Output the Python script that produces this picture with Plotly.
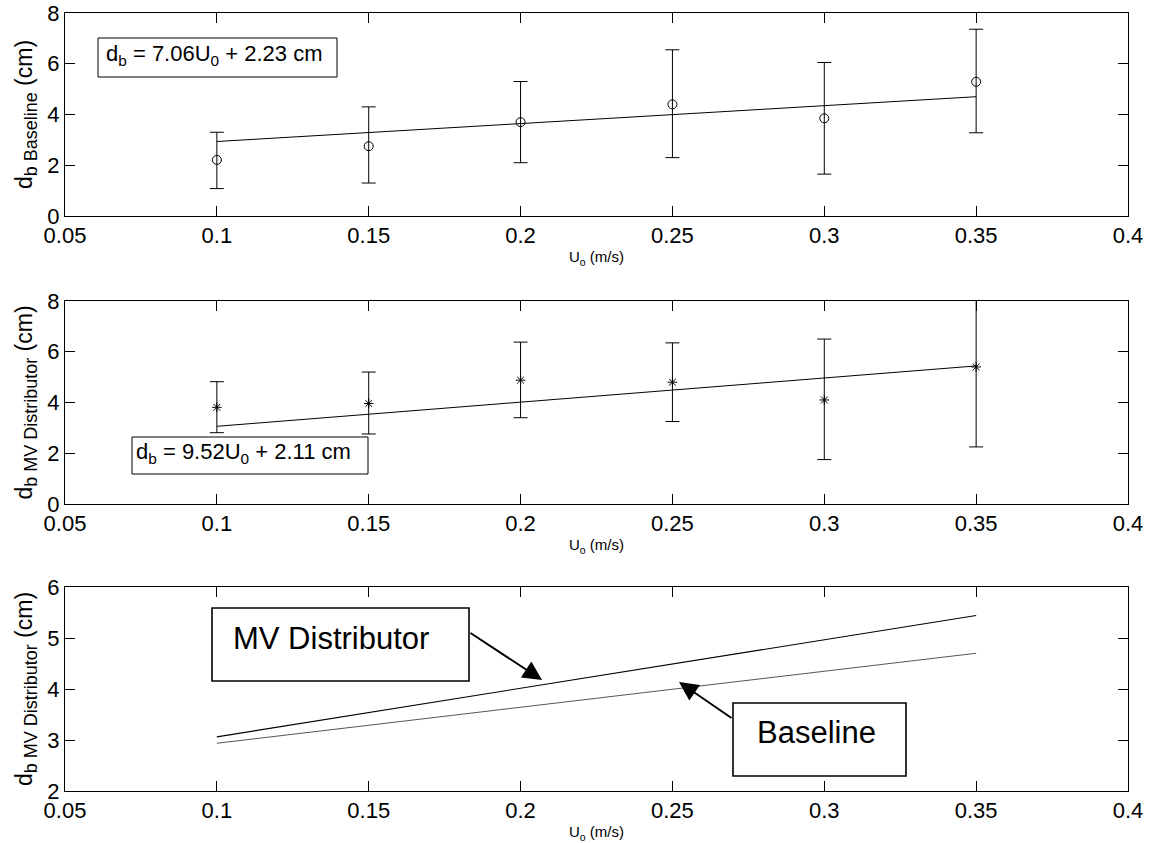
import plotly.graph_objects as go

# Superficial gas velocity (m/s) at which bubble sizes were measured
u0 = [0.10, 0.15, 0.20, 0.25, 0.30, 0.35]
x_tick_vals = [0.05, 0.10, 0.15, 0.20, 0.25, 0.30, 0.35, 0.40]
x_tick_text = ["0.05", "0.1", "0.15", "0.2", "0.25", "0.3", "0.35", "0.4"]

# Baseline distributor: mean bubble diameter (cm) and error-bar limits
base_mean = [2.21, 2.75, 3.70, 4.40, 3.85, 5.29]
base_upper = [3.30, 4.30, 5.30, 6.55, 6.05, 7.36]
base_lower = [1.08, 1.30, 2.10, 2.30, 1.65, 3.28]

# MV distributor: mean bubble diameter (cm) and error-bar limits
mv_mean = [3.81, 3.96, 4.88, 4.80, 4.10, 5.40]
mv_upper = [4.82, 5.20, 6.38, 6.35, 6.50, 8.55]
mv_lower = [2.81, 2.76, 3.40, 3.25, 1.75, 2.25]

# Linear fits d_b = slope * U0 + intercept
base_slope, base_intercept = 7.06, 2.23
mv_slope, mv_intercept = 9.52, 2.11
fit_u = [0.10, 0.35]

FONT = "Arial, Liberation Sans, sans-serif"
W, H = 1152, 843
ML, MR, MT, MB = 65, 24, 13, 52
PW, PH = W - ML - MR, H - MT - MB


def fx(px):
    return (px - ML) / PW


def fy(py):
    return 1 - (py - MT) / PH


def fit_line(slope, intercept):
    return [slope * u + intercept for u in fit_u]


def err(mean, upper, lower):
    return dict(type="data", symmetric=False,
                array=[u - m for u, m in zip(upper, mean)],
                arrayminus=[m - l for m, l in zip(mean, lower)],
                color="black", thickness=1, width=7)


fig = go.Figure()

# Panel 1: baseline distributor
fig.add_trace(go.Scatter(x=u0, y=base_mean, mode="markers",
                         marker=dict(symbol="circle-open", size=9, color="black",
                                     line=dict(width=1, color="black")),
                         error_y=err(base_mean, base_upper, base_lower),
                         xaxis="x", yaxis="y", showlegend=False))
fig.add_trace(go.Scatter(x=fit_u, y=fit_line(base_slope, base_intercept), mode="lines",
                         line=dict(color="black", width=1),
                         xaxis="x", yaxis="y", showlegend=False))

# Panel 2: MV distributor
fig.add_trace(go.Scatter(x=u0, y=mv_mean, mode="markers",
                         marker=dict(symbol="asterisk-open", size=8, color="black",
                                     line=dict(width=1, color="black")),
                         error_y=err(mv_mean, mv_upper, mv_lower),
                         xaxis="x2", yaxis="y2", showlegend=False))
fig.add_trace(go.Scatter(x=fit_u, y=fit_line(mv_slope, mv_intercept), mode="lines",
                         line=dict(color="black", width=1),
                         xaxis="x2", yaxis="y2", showlegend=False))

# Panel 3: fitted lines compared
fig.add_trace(go.Scatter(x=fit_u, y=fit_line(mv_slope, mv_intercept), mode="lines",
                         line=dict(color="black", width=1.1),
                         xaxis="x3", yaxis="y3", showlegend=False))
fig.add_trace(go.Scatter(x=fit_u, y=fit_line(base_slope, base_intercept), mode="lines",
                         line=dict(color="#555555", width=1),
                         xaxis="x3", yaxis="y3", showlegend=False))

axis_common = dict(showline=True, linecolor="black", linewidth=1, mirror="ticks",
                   ticks="inside", ticklen=10, tickwidth=1, tickcolor="black",
                   showgrid=False, zeroline=False, automargin=False,
                   tickfont=dict(family=FONT, size=22, color="black"))

x_title = dict(text="U<sub>o</sub> (m/s)", font=dict(family=FONT, size=15, color="black"),
               standoff=4)

domains = [(0.73907, 1.0), (0.36889, 0.62982), (0.0, 0.26221)]
y_titles = ["d<sub><span style='font-size:18px'>b Baseline</span></sub> (cm)",
            "d<sub><span style='font-size:18px'>b MV Distributor</span></sub> (cm)",
            "d<sub><span style='font-size:18px'>b MV Distributor</span></sub> (cm)"]
y_ranges = [[0, 8], [0, 8], [2, 6]]
y_ticks = [[0, 2, 4, 6, 8], [0, 2, 4, 6, 8], [2, 3, 4, 5, 6]]

layout = dict(width=W, height=H, autosize=False,
              margin=dict(l=ML, r=MR, t=MT, b=MB),
              paper_bgcolor="white", plot_bgcolor="white",
              font=dict(family=FONT, color="black"))

for i in range(3):
    sx = "" if i == 0 else str(i + 1)
    layout["xaxis" + sx] = dict(axis_common, domain=[0, 1], range=[0.05, 0.4],
                                tickvals=x_tick_vals, ticktext=x_tick_text,
                                anchor="y" + sx, title=x_title)
    layout["yaxis" + sx] = dict(axis_common, domain=list(domains[i]), range=y_ranges[i],
                                tickvals=y_ticks[i], anchor="x" + sx,
                                title=dict(text=y_titles[i],
                                           font=dict(family=FONT, size=23, color="black"),
                                           standoff=8))

fig.update_layout(**layout)

# Boxes around the fit equations and the panel-3 labels
boxes = [
    (98, 38, 337, 77, 1),
    (132, 437, 368, 474, 1),
    (212, 608, 469, 681, 1.6),
    (733, 703, 906, 776, 1.6),
]
for x0, y0, x1, y1, lw in boxes:
    fig.add_shape(type="rect", xref="paper", yref="paper",
                  x0=fx(x0), x1=fx(x1), y0=fy(y1), y1=fy(y0),
                  line=dict(color="black", width=lw), fillcolor="white", layer="above")

labels = [
    ("d<sub>b</sub> = 7.06U<sub>0</sub> + 2.23 cm", 104, 55, 22),
    ("d<sub>b</sub> = 9.52U<sub>0</sub> + 2.11 cm", 134, 453, 22),
    ("MV Distributor", 231, 638, 31),
    ("Baseline", 755, 732, 31),
]
for txt, x, y, size in labels:
    fig.add_annotation(text=txt, xref="paper", yref="paper", x=fx(x), y=fy(y),
                       xanchor="left", yanchor="middle", showarrow=False,
                       font=dict(family=FONT, size=size, color="black"))

# Arrows pointing from each label to its fitted line
arrows = [
    (542, 680, 469, 632),
    (679, 682, 733, 719),
]
for tx, ty, sx_, sy_ in arrows:
    fig.add_annotation(text="", xref="paper", yref="paper", x=fx(tx), y=fy(ty),
                       ax=sx_ - tx, ay=sy_ - ty, showarrow=True,
                       arrowhead=2, arrowsize=1.9, arrowwidth=2, arrowcolor="black",
                       standoff=0, startstandoff=0)

fig.write_html("out.html")
